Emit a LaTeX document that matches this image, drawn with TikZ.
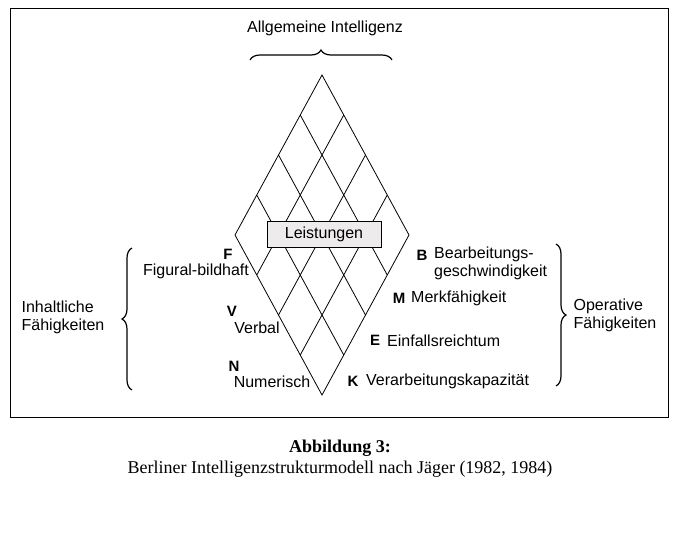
\documentclass[tikz,border=0pt]{standalone}
\usepackage{fontspec}
\setmainfont{Liberation Serif}
\setsansfont{Liberation Sans}
\usetikzlibrary{decorations.pathreplacing, calc}
\tikzset{
    lbl/.style={font=\sffamily\fontsize{16}{18}\selectfont, inner sep=0pt},
    letter/.style={font=\sffamily\bfseries\fontsize{15}{17}\selectfont, inner sep=0pt},
    brace/.style={decorate, decoration={brace, amplitude=10pt}, very thick}
}
\begin{document}
\begin{tikzpicture}[x=1pt, y=-1pt]
    \useasboundingbox (0,0) rectangle (681,550);
    % Frame
    \draw[thick] (10,8) rectangle (668,417);

    % Diamond grid
    \coordinate (T) at (322,75);
    \coordinate (L) at (235,235);
    \coordinate (B) at (322,395);
    \coordinate (R) at (409,235);
    \draw[thick] (T) -- (L) -- (B) -- (R) -- cycle;
    \foreach \i in {1,2,3} {
        \draw[thick] ($(T)!\i/4!(R)$) -- ($(L)!\i/4!(B)$);
        \draw[thick] ($(T)!\i/4!(L)$) -- ($(R)!\i/4!(B)$);
    }
    \node[draw, thick, fill=red!6!gray!15, minimum width=114pt, minimum height=26pt,
        lbl] (leist) at (324,234) {Leistungen};

    % Top brace
    \coordinate (topA) at (250,60);
    \coordinate (topB) at (392,60);
    \draw[brace] (topA) -- (topB);
    \node[lbl] (allg) at (325,28) {Allgemeine Intelligenz};

    % Left side
    \coordinate (leftA) at (132,390);
    \coordinate (leftB) at (132,248);
    \draw[brace] (leftA) -- (leftB);
    \node[lbl, align=left] (inh) at (63,317) {Inhaltliche\\Fähigkeiten};
    \node[letter] (F) at (228,254) {F};
    \node[lbl] (fig) at (196,271) {Figural-bildhaft};
    \node[letter] (V) at (232,311) {V};
    \node[lbl] (verb) at (257,328) {Verbal};
    \node[letter] (N) at (234,366) {N};
    \node[lbl] (num) at (272,382) {Numerisch};

    % Right side
    \coordinate (rightA) at (556,244);
    \coordinate (rightB) at (556,386);
    \draw[brace] (rightA) -- (rightB);
    \node[lbl, align=left] (op) at (615,315) {Operative\\Fähigkeiten};
    \node[letter] (Bl) at (422,255) {B};
    \node[lbl, align=left, anchor=west] (bearb) at (434,263) {Bearbeitungs-\\geschwindigkeit};
    \node[letter] (M) at (399,298) {M};
    \node[lbl, anchor=west] (merk) at (411,298) {Merkfähigkeit};
    \node[letter] (E) at (375,340) {E};
    \node[lbl, anchor=west] (einf) at (387,341) {Einfallsreichtum};
    \node[letter] (K) at (353,381) {K};
    \node[lbl, anchor=west] (verar) at (366,381) {Verarbeitungskapazität};

    % Caption
    \node[font=\bfseries\fontsize{18}{20}\selectfont] (abb) at (340,448) {Abbildung 3:};
    \node[font=\fontsize{18}{20}\selectfont] (cap) at (340,469)
        {Berliner Intelligenzstrukturmodell nach Jäger (1982, 1984)};
\end{tikzpicture}
\end{document}
